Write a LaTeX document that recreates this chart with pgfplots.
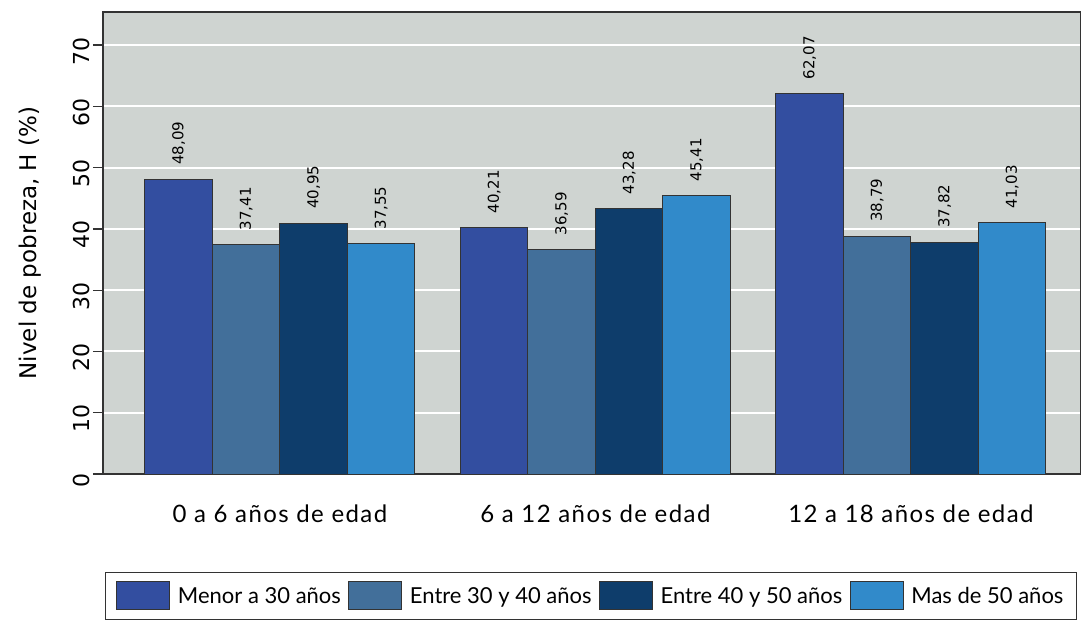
\documentclass[border=0pt]{standalone}
\usepackage{pgfplots}
\pgfplotsset{compat=1.18}
\usepackage{fontspec}
\setmainfont{Lato}
\newfontfamily\dejavu{DejaVu Sans}
\newfontfamily\catfont[LetterSpace=6]{Lato}
\definecolor{bgc}{HTML}{CFD4D1}
\definecolor{cA}{HTML}{334EA0}
\definecolor{cB}{HTML}{426F9A}
\definecolor{cC}{HTML}{0E3D6B}
\definecolor{cD}{HTML}{318ACA}
\definecolor{edge}{HTML}{333333}
\begin{document}
\begin{tikzpicture}
\useasboundingbox (-103pt,-145pt) rectangle (978pt,474pt);
\begin{axis}[
  at={(0pt,0pt)}, anchor=south west,
  scale only axis, width=978pt, height=462pt,
  xmin=-0.561, xmax=2.539, ymin=0, ymax=75.4,
  ybar=0pt, bar width=67.5pt,
  axis background/.style={fill=bgc},
  axis line style={draw=edge, line width=1.2pt},
  ytick={0,10,...,70}, ytick pos=left,
  tick align=outside, major tick length=10pt,
  ytick style={draw=edge, line width=1.2pt},
  xtick={0,1,2}, xtick style={draw=none},
  xticklabels={0 a 6 años de edad, 6 a 12 años de edad, 12 a 18 años de edad},
  xticklabel style={font=\catfont\fontsize{24}{28}\selectfont, anchor=center, yshift=-30pt},
  yticklabel={\pgfmathprintnumber[assume math mode=true]{\tick}},
  yticklabel style={font=\dejavu\fontsize{22}{26}\selectfont, rotate=90, anchor=south, xshift=-6pt},
  ymajorgrids, major grid style={draw=white, line width=2pt},
  ylabel={Nivel de pobreza, H (\%)},
  every axis y label/.style={at={(rel axis cs:0,0.5)}, xshift=-73pt, rotate=90, anchor=center, font=\dejavu\fontsize{23}{27}\selectfont},
  nodes near coords={\pgfmathprintnumber[fixed, fixed zerofill, precision=2, use comma, assume math mode=true]{\pgfplotspointmeta}},
  every node near coord/.append style={font=\dejavu\fontsize{15}{18}\selectfont, rotate=90, anchor=west, inner sep=0pt, xshift=14pt, color=black},
  legend columns=4,
  legend style={at={(rel axis cs:0.002,-0.212)}, anchor=north west, draw=edge, line width=1pt,
    font=\fontsize{22}{26}\selectfont, inner xsep=11pt, inner ysep=9pt,
    /tikz/every odd column/.append style={column sep=5.5pt},
    /tikz/every even column/.append style={column sep=5.5pt}},
  legend image code/.code={\draw[#1, line width=1pt] (0pt,-14pt) rectangle (53pt,14pt);},
]
\addplot[fill=cA, draw=edge, line width=1pt] coordinates {(0,48.09) (1,40.21) (2,62.07)};
\addplot[fill=cB, draw=edge, line width=1pt] coordinates {(0,37.41) (1,36.59) (2,38.79)};
\addplot[fill=cC, draw=edge, line width=1pt] coordinates {(0,40.95) (1,43.28) (2,37.82)};
\addplot[fill=cD, draw=edge, line width=1pt] coordinates {(0,37.55) (1,45.41) (2,41.03)};
\legend{Menor a 30 años, Entre 30 y 40 años, Entre 40 y 50 años, Mas de 50 años}
\end{axis}
\end{tikzpicture}
\end{document}
